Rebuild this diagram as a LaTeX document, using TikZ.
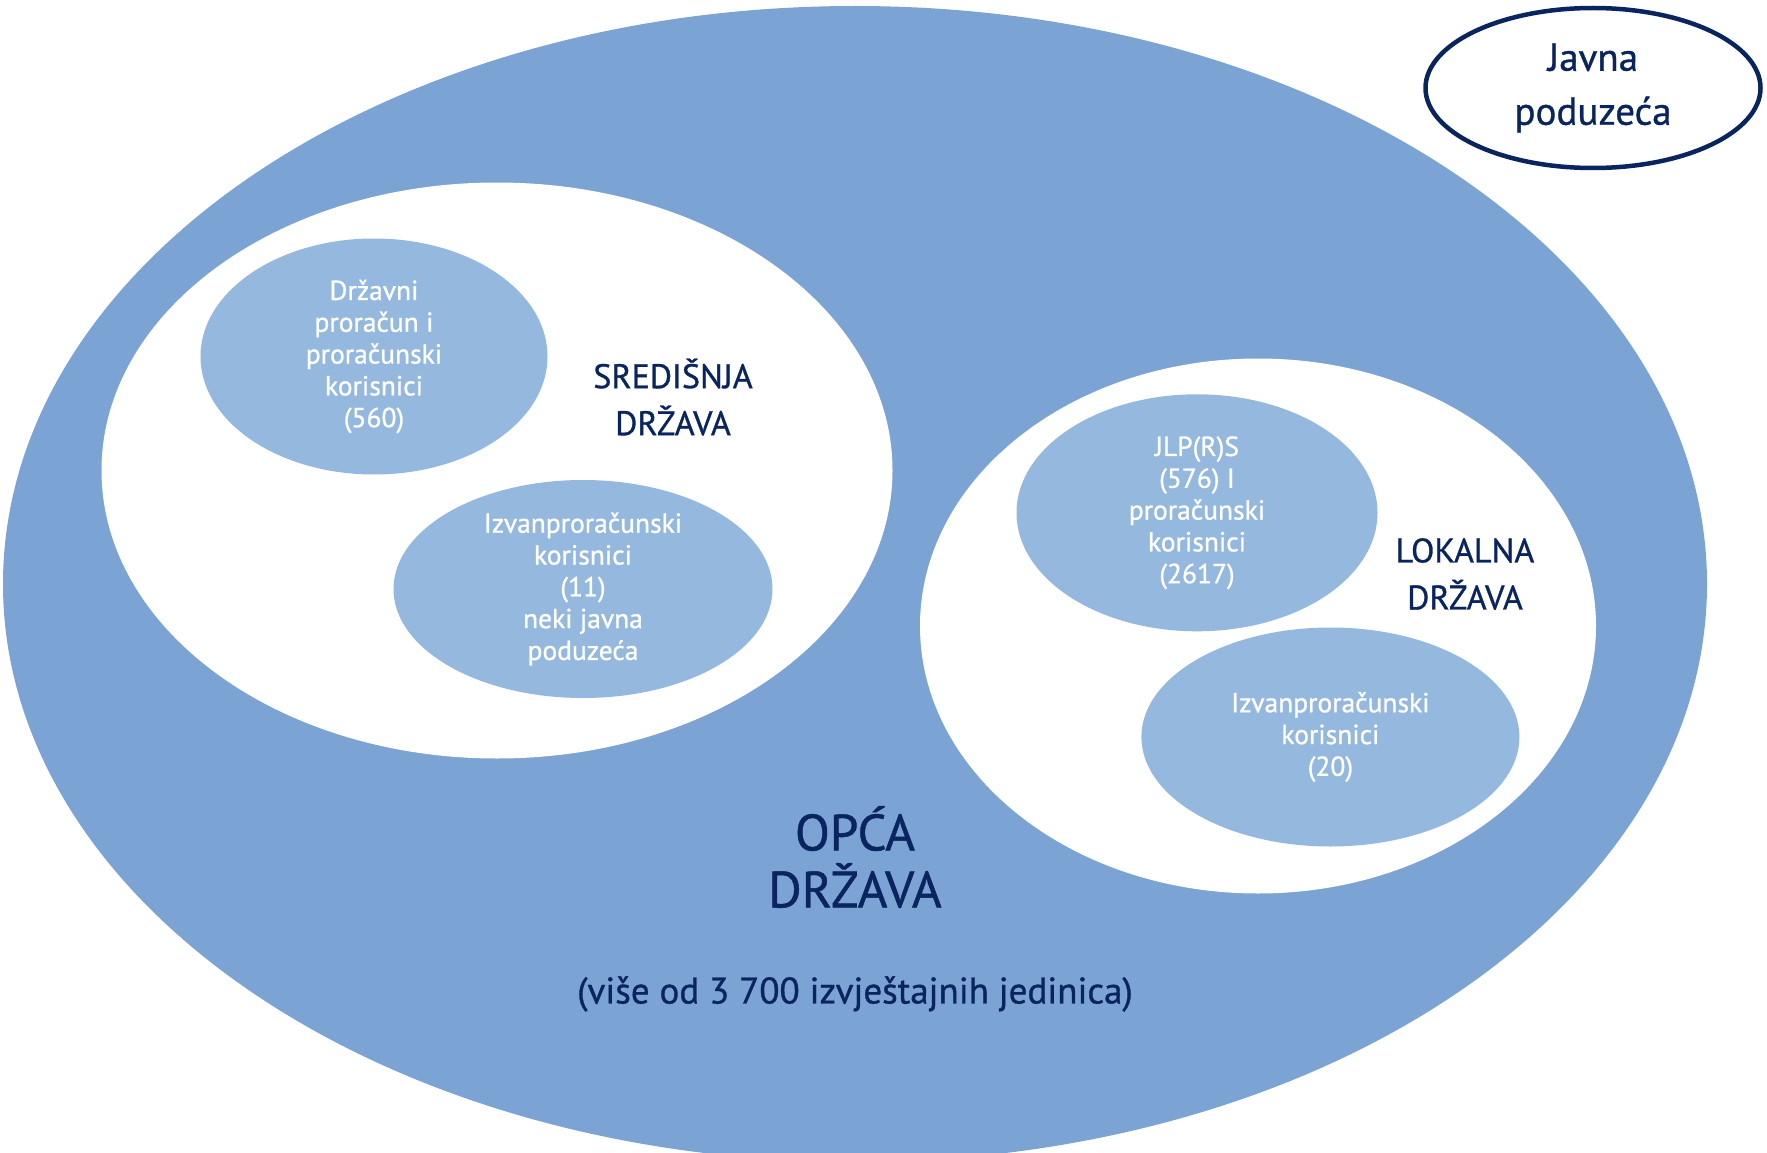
\documentclass[tikz,border=0pt]{standalone}
\usepackage{fontspec}
\setmainfont{PT Sans}
\newfontfamily\medfont{PT Sans}[FakeBold=0.9]
\usetikzlibrary{shapes.geometric}
\definecolor{outerblue}{RGB}{123,163,211}
\definecolor{innerblue}{RGB}{149,184,222}
\definecolor{navy}{RGB}{10,36,96}
\tikzset{
  oval/.style={ellipse, inner sep=0pt, align=center},
  bigoval/.style={oval, fill=outerblue},
  groupoval/.style={oval, fill=white},
  unitoval/.style={oval, fill=innerblue, text=white, font=\medfont\fontsize{27.5}{31.8}\selectfont},
  grouplabel/.style={align=center, text=navy, font=\medfont\fontsize{34}{47}\selectfont},
}
\begin{document}
\begin{tikzpicture}[x=1pt,y=-1pt]
\clip (0,0) rectangle (1767,1153);
\useasboundingbox (0,0) rectangle (1767,1153);
\fill[white] (0,0) rectangle (1767,1153);
% general government
\node[bigoval, minimum width=1704pt, minimum height=1156pt] (opca) at (855,584) {};
% central and local government
\node[groupoval, minimum width=791pt, minimum height=576pt] (sred) at (497,470.5) {};
\node[groupoval, minimum width=676pt, minimum height=535pt] (lok) at (1258,626) {};
% units
\node[unitoval, minimum width=347pt, minimum height=236pt] (drz) at (374,356.5)
  {Državni\\proračun i\\proračunski\\korisnici\\(560)};
\node[unitoval, minimum width=379pt, minimum height=218pt] (izv1) at (583,589)
  {Izvanproračunski\\korisnici\\(11)\\neki javna\\poduzeća};
\node[unitoval, minimum width=361pt, minimum height=237pt] (jlp) at (1197,512.8)
  {JLP(R)S\\(576) I\\proračunski\\korisnici\\(2617)};
\node[unitoval, minimum width=378pt, minimum height=219pt] (izv2) at (1330.4,737)
  {Izvanproračunski\\korisnici\\(20)};
% group labels
\node[grouplabel] (sredlab) at (673,397) {SREDIŠNJA\\DRŽAVA};
\node[grouplabel] (loklab) at (1465,574) {LOKALNA\\DRŽAVA};
\node[align=center, text=navy, font=\medfont\fontsize{51}{57}\selectfont] (opcalab) at (855,857) {OPĆA\\DRŽAVA};
\node[text=navy, font=\medfont\fontsize{37}{40}\selectfont] (note) at (855,994) {(više od 3 700 izvještajnih jedinica)};
% public enterprises
\node[oval, draw=navy, line width=4.5pt, fill=white, minimum width=335pt, minimum height=160pt,
      text=navy, font=\medfont\fontsize{39}{54}\selectfont] (jp) at (1593,88) {Javna\\poduzeća};
\end{tikzpicture}
\end{document}
